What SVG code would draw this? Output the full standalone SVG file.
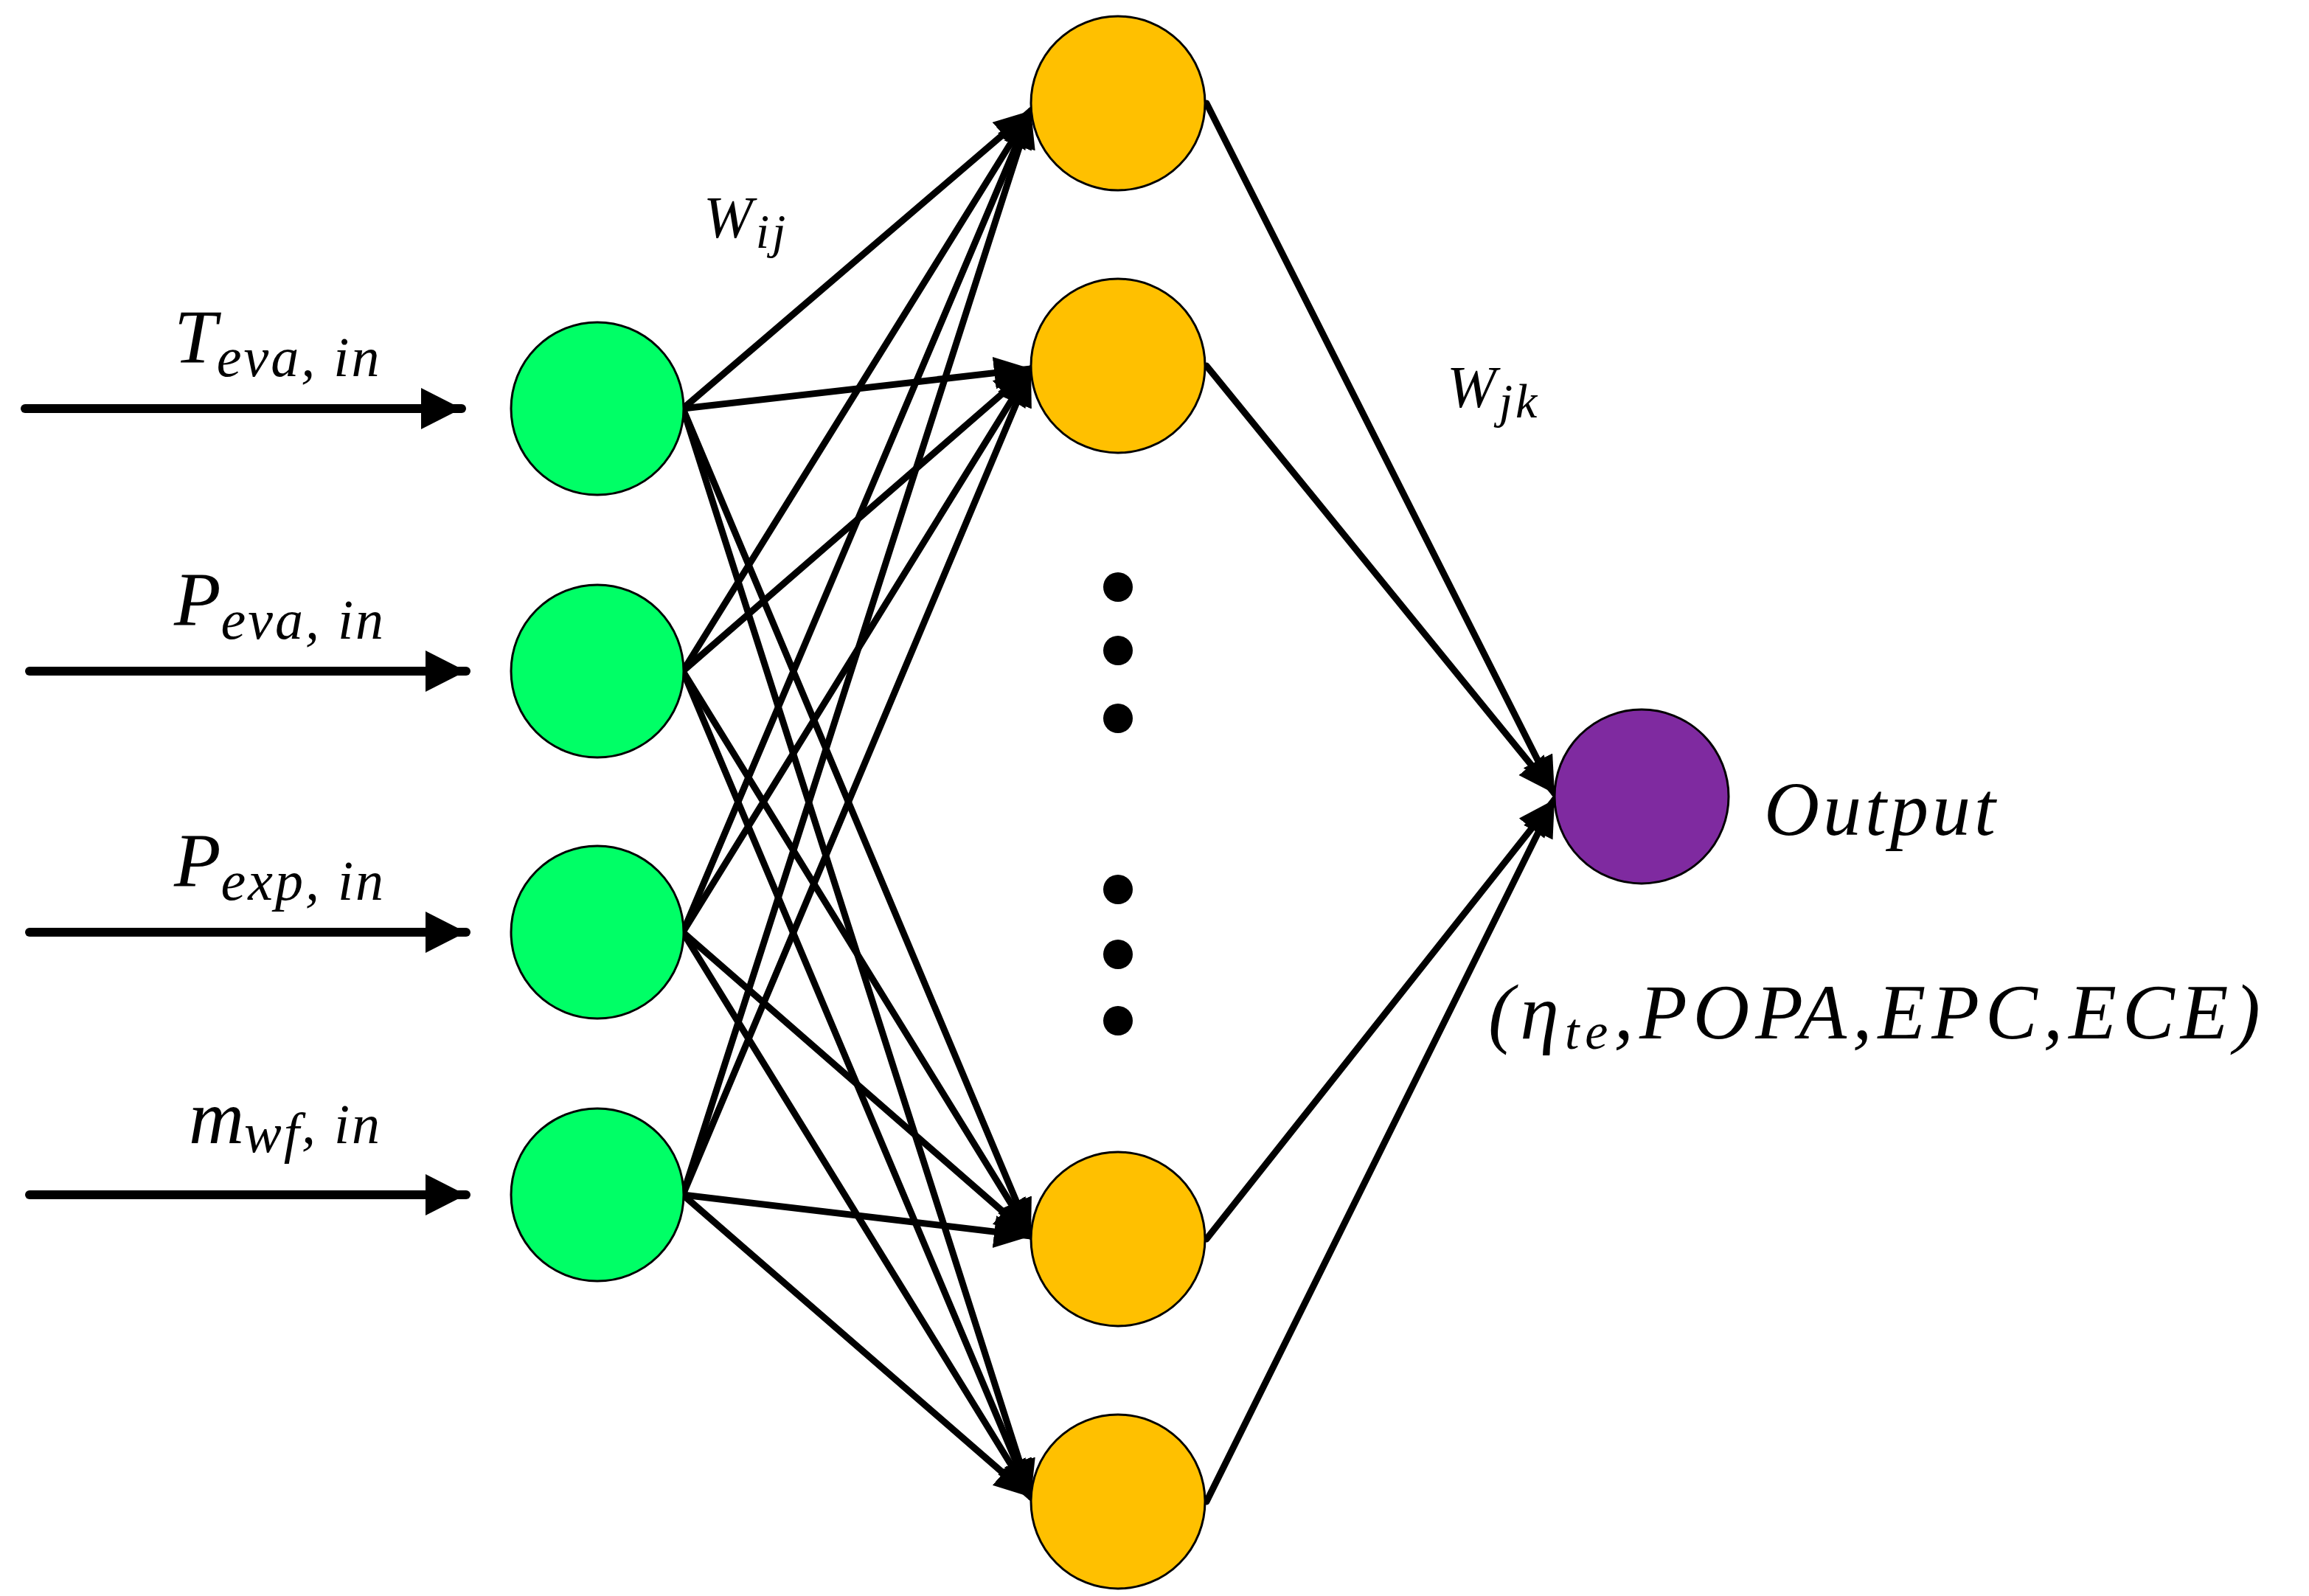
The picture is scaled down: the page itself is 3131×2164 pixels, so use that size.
<svg xmlns="http://www.w3.org/2000/svg" width="3131" height="2164" viewBox="0 0 3131 2164">
<style>
.in{fill:#00ff66;stroke:#000;stroke-width:3}
.hid{fill:#ffc000;stroke:#000;stroke-width:3}
.out{fill:#7f2aa0;stroke:#000;stroke-width:3}
.e{stroke:#000;stroke-width:9;fill:none;stroke-linecap:round;marker-end:url(#ah)}
.ia{stroke:#000;stroke-width:12;fill:none;stroke-linecap:round;marker-end:url(#ah2)}
text{font-family:"Liberation Serif",serif;font-style:italic;fill:#000}
.lab{font-size:104px}
.sub{font-size:76px;letter-spacing:3px}
</style>
<defs>
<marker id="ah" markerUnits="userSpaceOnUse" markerWidth="60" markerHeight="50" refX="50" refY="22" orient="auto"><path d="M0,0 L50,22 L0,44 Z" fill="#000"/></marker>
<marker id="ah2" markerUnits="userSpaceOnUse" markerWidth="60" markerHeight="70" refX="55" refY="28" orient="auto"><path d="M0,0 L55,28 L0,56 Z" fill="#000"/></marker>
</defs>
<g id="connectors">
<line class="ia" x1="34" y1="554" x2="626" y2="554"/>
<line class="ia" x1="40" y1="910" x2="632" y2="910"/>
<line class="ia" x1="40" y1="1264" x2="632" y2="1264"/>
<line class="ia" x1="40" y1="1620" x2="632" y2="1620"/>
<g>
<line class="e" x1="926" y1="554" x2="1398" y2="150"/><line class="e" x1="926" y1="554" x2="1398" y2="500"/><line class="e" x1="926" y1="554" x2="1398" y2="1676"/><line class="e" x1="926" y1="554" x2="1398" y2="2030"/>
<line class="e" x1="926" y1="910" x2="1398" y2="150"/><line class="e" x1="926" y1="910" x2="1398" y2="500"/><line class="e" x1="926" y1="910" x2="1398" y2="1676"/><line class="e" x1="926" y1="910" x2="1398" y2="2030"/>
<line class="e" x1="926" y1="1264" x2="1398" y2="150"/><line class="e" x1="926" y1="1264" x2="1398" y2="500"/><line class="e" x1="926" y1="1264" x2="1398" y2="1676"/><line class="e" x1="926" y1="1264" x2="1398" y2="2030"/>
<line class="e" x1="926" y1="1620" x2="1398" y2="150"/><line class="e" x1="926" y1="1620" x2="1398" y2="500"/><line class="e" x1="926" y1="1620" x2="1398" y2="1676"/><line class="e" x1="926" y1="1620" x2="1398" y2="2030"/>
<line class="e" x1="1636" y1="140" x2="2108" y2="1076"/><line class="e" x1="1636" y1="496" x2="2108" y2="1076"/><line class="e" x1="1636" y1="1680" x2="2108" y2="1084"/><line class="e" x1="1636" y1="2036" x2="2108" y2="1084"/>
</g>
</g>
<g id="input1"><circle class="in" cx="810" cy="554" r="117"/></g>
<g id="input2"><circle class="in" cx="810" cy="910" r="117"/></g>
<g id="input3"><circle class="in" cx="810" cy="1264" r="117"/></g>
<g id="input4"><circle class="in" cx="810" cy="1620" r="117"/></g>
<g id="hidden1"><circle class="hid" cx="1516" cy="140" r="118"/></g>
<g id="hidden2"><circle class="hid" cx="1516" cy="496" r="118"/></g>
<g id="hidden3"><circle class="hid" cx="1516" cy="1680" r="118"/></g>
<g id="hidden4"><circle class="hid" cx="1516" cy="2036" r="118"/></g>
<g id="dots" fill="#000"><circle cx="1516" cy="796" r="20"/><circle cx="1516" cy="882" r="20"/><circle cx="1516" cy="974" r="20"/><circle cx="1516" cy="1206" r="20"/><circle cx="1516" cy="1294" r="20"/><circle cx="1516" cy="1384" r="20"/></g>
<g id="output"><circle class="out" cx="2226" cy="1080" r="118"/></g>
<g id="labels">
<text x="236" y="492" class="lab">T<tspan class="sub" dy="18">eva, in</tspan></text>
<text x="236" y="848" class="lab">P<tspan class="sub" dy="18">eva, in</tspan></text>
<text x="236" y="1202" class="lab">P<tspan class="sub" dy="18">exp, in</tspan></text>
<text x="256" y="1550" class="lab" font-size="84">m<tspan class="sub" font-size="60" dy="12">wf</tspan><tspan class="sub" dy="-12">, in</tspan></text>
<text x="954" y="322" font-size="80" letter-spacing="4">W<tspan font-size="66" dy="14">ij</tspan></text>
<text x="1962" y="552" font-size="80" letter-spacing="4">W<tspan font-size="66" dy="14">jk</tspan></text>
<text x="2392" y="1132" font-size="104" letter-spacing="5">Output</text>
<text x="2018" y="1408" font-size="106" letter-spacing="8">(η<tspan font-size="70" dy="14">te</tspan><tspan dy="-14">,POPA,EPC,ECE)</tspan></text>
</g>
</svg>
